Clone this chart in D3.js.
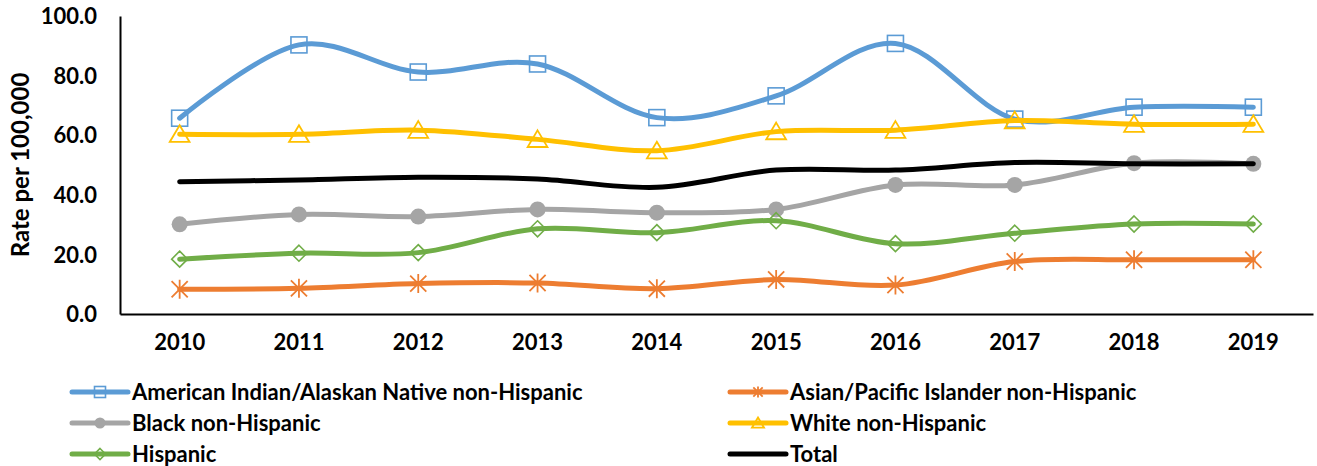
<!DOCTYPE html>
<html>
<head>
<meta charset="utf-8">
<script src="https://cdn.jsdelivr.net/npm/d3@7"></script>
<style>
  html, body { margin: 0; padding: 0; background: #fff; }
  svg { display: block; }
  text { font-family: Lato, "Open Sans", sans-serif; font-weight: 700; fill: #000; }
</style>
</head>
<body>
<svg id="chart" width="1317" height="466"></svg>
<script>
const years = ["2010","2011","2012","2013","2014","2015","2016","2017","2018","2019"];
const seriesNames = [
  "American Indian/Alaskan Native non-Hispanic",
  "Asian/Pacific Islander non-Hispanic",
  "Black non-Hispanic",
  "White non-Hispanic",
  "Hispanic",
  "Total"
];
const aian     = [65.7, 90.3, 81.2, 83.9, 65.9, 73.2, 90.8, 65.4, 69.4, 69.4];
const api      = [8.3, 8.6, 10.2, 10.4, 8.5, 11.6, 9.7, 17.6, 18.2, 18.2];
const black    = [30.1, 33.4, 32.7, 35.1, 34.0, 35.1, 43.3, 43.3, 50.6, 50.4];
const white    = [60.3, 60.3, 61.7, 58.6, 54.8, 61.2, 61.7, 64.9, 63.7, 63.7];
const hispanic = [18.4, 20.4, 20.6, 28.6, 27.3, 31.3, 23.6, 27.1, 30.2, 30.2];
const total    = [44.4, 45.0, 45.9, 45.3, 42.5, 48.3, 48.3, 50.8, 50.4, 50.4];
const yTicks = [0, 20, 40, 60, 80, 100];
const yTitle = "Rate per 100,000";

const colors = ["#5B9BD5", "#ED7D31", "#A5A5A5", "#FFC000", "#70AD47", "#000000"];
const markers = ["square", "star", "circle", "triangle", "diamond", "none"];
const values = [aian, api, black, white, hispanic, total];

const svg = d3.select("#chart");
const mLeft = 120, mRight = 1313, mTop = 16, mBottom = 314;

const x = d3.scaleBand().domain(years).range([mLeft, mRight]);
const y = d3.scaleLinear().domain([0, 100]).range([mBottom, mTop]);
const cx = d => x(d) + x.bandwidth() / 2;

// axes
const yAxis = svg.append("g").attr("transform", `translate(${mLeft},0)`)
  .call(d3.axisLeft(y).tickValues(yTicks).tickSize(0).tickPadding(23).tickFormat(d3.format(".1f")));
yAxis.select(".domain").attr("stroke", "#000").attr("stroke-width", 2);
yAxis.selectAll("text").style("font-size", "22px").attr("dy", "0.35em");

const xAxis = svg.append("g").attr("transform", `translate(0,${mBottom})`)
  .call(d3.axisBottom(x).tickSize(0).tickPadding(20));
xAxis.select(".domain").attr("stroke", "#000").attr("stroke-width", 2);
xAxis.selectAll("text").style("font-size", "22px");

svg.append("text")
  .attr("transform", `translate(29,${(mTop + mBottom) / 2}) rotate(-90)`)
  .attr("text-anchor", "middle")
  .style("font-size", "24px")
  .text(yTitle);

function drawMarker(g, type, color, px, py, s) {
  const h = s / 2;
  if (type === "square") {
    g.append("rect").attr("x", px - h).attr("y", py - h).attr("width", s).attr("height", s)
      .attr("fill", "none").attr("stroke", color).attr("stroke-width", 1.6);
  } else if (type === "circle") {
    g.append("circle").attr("cx", px).attr("cy", py).attr("r", h).attr("fill", color);
  } else if (type === "triangle") {
    g.append("path").attr("d", `M${px},${py - h}L${px + h * 1.1},${py + h * 0.85}L${px - h * 1.1},${py + h * 0.85}Z`)
      .attr("fill", "none").attr("stroke", color).attr("stroke-width", 1.8);
  } else if (type === "diamond") {
    g.append("path").attr("d", `M${px},${py - h}L${px + h},${py}L${px},${py + h}L${px - h},${py}Z`)
      .attr("fill", "none").attr("stroke", color).attr("stroke-width", 1.6);
  } else if (type === "star") {
    const d = h * 0.85;
    g.append("path").attr("d", `M${px},${py - h}L${px},${py + h}M${px - d},${py - d}L${px + d},${py + d}M${px + d},${py - d}L${px - d},${py + d}`)
      .attr("fill", "none").attr("stroke", color).attr("stroke-width", 1.8);
  }
}

const line = d3.line().x((d, i) => cx(years[i])).y(d => y(d)).curve(d3.curveCardinal.tension(0));

values.forEach((vals, si) => {
  const g = svg.append("g");
  g.append("path").datum(vals).attr("d", line)
    .attr("fill", "none").attr("stroke", colors[si]).attr("stroke-width", 5)
    .attr("stroke-linecap", "round").attr("stroke-linejoin", "round");
  vals.forEach((v, i) => {
    const size = markers[si] === "triangle" ? 18 : (markers[si] === "star" ? 19 : 16);
    drawMarker(g, markers[si], colors[si], cx(years[i]), y(v), size);
  });
});

// legend
const legendPos = [[72, 392], [730, 392], [72, 423], [730, 423], [72, 454], [730, 454]];
seriesNames.forEach((name, si) => {
  const [lx, ly] = legendPos[si];
  const g = svg.append("g");
  g.append("line").attr("x1", lx).attr("x2", lx + 56).attr("y1", ly).attr("y2", ly)
    .attr("stroke", colors[si]).attr("stroke-width", 5).attr("stroke-linecap", "round");
  drawMarker(g, markers[si], colors[si], lx + 28, ly, 11);
  g.append("text").attr("x", lx + 60).attr("y", ly).attr("dy", "0.35em")
    .style("font-size", "22px").text(name);
});
</script>
</body>
</html>
